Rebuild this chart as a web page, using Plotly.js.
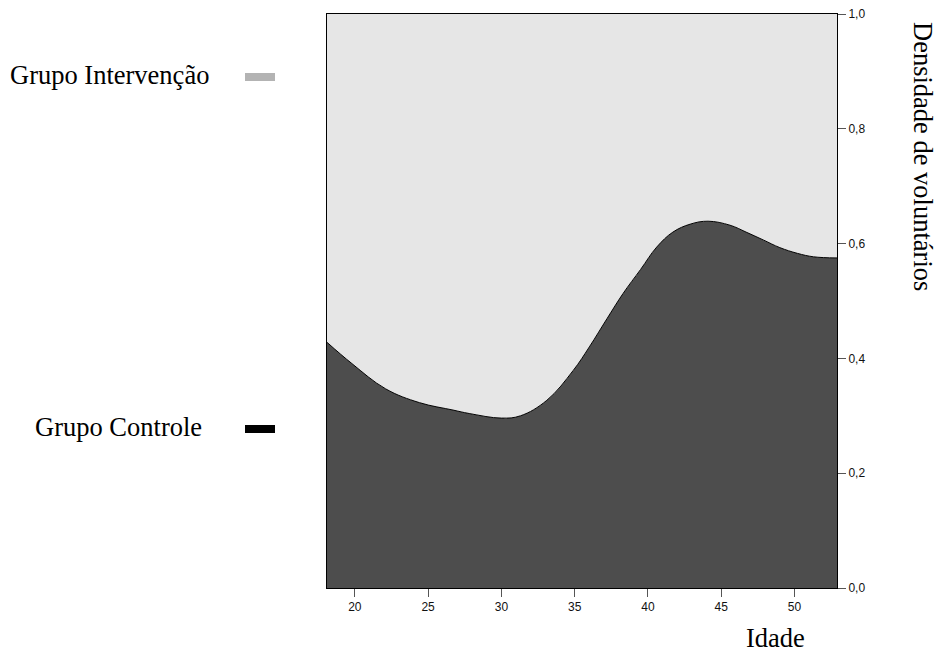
<!DOCTYPE html>
<html>
<head>
<meta charset="utf-8">
<script src="https://cdn.plot.ly/plotly-3.0.1.min.js"></script>
<style>html,body{margin:0;padding:0;background:#fff;}#chart{width:939px;height:653px;}</style>
</head>
<body>
<div id="chart"></div>
<script>
// Age (Idade) sample points along the conditional density curve
var idade = [18.1, 19.8, 22.1, 24.4, 26.7, 27.8, 30.0, 31.3, 33.1, 34.9, 36.0, 37.2, 38.3, 39.5, 40.6, 41.7, 42.9, 44.1, 45.6, 46.7, 47.9, 49.0, 50.2, 51.3, 52.9];
// Proportion of Grupo Controle (lower, dark region)
var controle = [0.428, 0.391, 0.347, 0.323, 0.310, 0.304, 0.296, 0.300, 0.327, 0.379, 0.420, 0.469, 0.513, 0.555, 0.594, 0.620, 0.634, 0.639, 0.632, 0.620, 0.606, 0.593, 0.583, 0.577, 0.575];
// Grupo Intervenção takes the rest up to 1
var intervencao = controle.map(function(v){ return 1 - v; });
var yTicks = [0, 0.2, 0.4, 0.6, 0.8, 1.0];
var xTicks = [20, 25, 30, 35, 40, 45, 50];
var groupLabels = ["Grupo Intervenção", "Grupo Controle"];

var W = 939, H = 653;
var mL = 327, mR = 102, mT = 14, mB = 65;
var pw = W - mL - mR, ph = H - mT - mB;
function px(x){ return (x - mL) / pw; }
function py(y){ return (H - mB - y) / ph; }

var traces = [
  {
    x: idade, y: controle, type: 'scatter', mode: 'lines', stackgroup: 'one',
    line: {shape: 'spline', smoothing: 1.1, color: '#000000', width: 1},
    fillcolor: '#4d4d4d', name: groupLabels[1], hoverinfo: 'x+y'
  },
  {
    x: idade, y: intervencao, type: 'scatter', mode: 'lines', stackgroup: 'one',
    line: {shape: 'spline', smoothing: 1.1, color: 'rgba(0,0,0,0)', width: 0},
    fillcolor: '#e6e6e6', name: groupLabels[0], hoverinfo: 'x+y'
  }
];

var serif = 'Liberation Serif, Times New Roman, serif';
var sans = 'Liberation Sans, Arial, sans-serif';

var layout = {
  width: W, height: H,
  margin: {l: mL, r: mR, t: mT, b: mB, pad: 0},
  paper_bgcolor: '#ffffff', plot_bgcolor: '#ffffff',
  showlegend: false,
  separators: ',.',
  xaxis: {
    range: [18.1, 52.9], tickvals: xTicks, ticks: 'outside', ticklen: 8, tickwidth: 1, tickcolor: '#555',
    showgrid: false, zeroline: false, showline: true, linecolor: '#000', linewidth: 1, mirror: true,
    tickfont: {family: sans, size: 12, color: '#111'}
  },
  yaxis: {
    range: [0, 1], side: 'right', tickvals: yTicks, tickformat: '.1f', ticks: 'outside', ticklen: 8, tickwidth: 1, tickcolor: '#555',
    showgrid: false, zeroline: false, showline: true, linecolor: '#000', linewidth: 1, mirror: true,
    tickfont: {family: sans, size: 12, color: '#111'}
  },
  annotations: [
    {text: groupLabels[0], xref: 'paper', yref: 'paper', x: px(8), y: py(75), xanchor: 'left', yanchor: 'middle', showarrow: false, font: {family: serif, size: 26.5, color: '#000'}},
    {text: groupLabels[1], xref: 'paper', yref: 'paper', x: px(33), y: py(427), xanchor: 'left', yanchor: 'middle', showarrow: false, font: {family: serif, size: 26.5, color: '#000'}},
    {text: 'Densidade de voluntários', xref: 'paper', yref: 'paper', x: px(923), y: py(156), xanchor: 'center', yanchor: 'middle', textangle: 90, showarrow: false, font: {family: serif, size: 26.5, color: '#000'}},
    {text: 'Idade', xref: 'paper', yref: 'paper', x: px(775), y: py(638), xanchor: 'center', yanchor: 'middle', showarrow: false, font: {family: serif, size: 26.5, color: '#000'}}
  ],
  shapes: [
    {type: 'rect', xref: 'paper', yref: 'paper', x0: px(245), x1: px(275), y0: py(81), y1: py(73), fillcolor: '#b3b3b3', line: {width: 0}},
    {type: 'rect', xref: 'paper', yref: 'paper', x0: px(245), x1: px(275), y0: py(433), y1: py(425), fillcolor: '#000000', line: {width: 0}}
  ]
};

Plotly.newPlot('chart', traces, layout, {displayModeBar: false, staticPlot: true});
</script>
</body>
</html>
